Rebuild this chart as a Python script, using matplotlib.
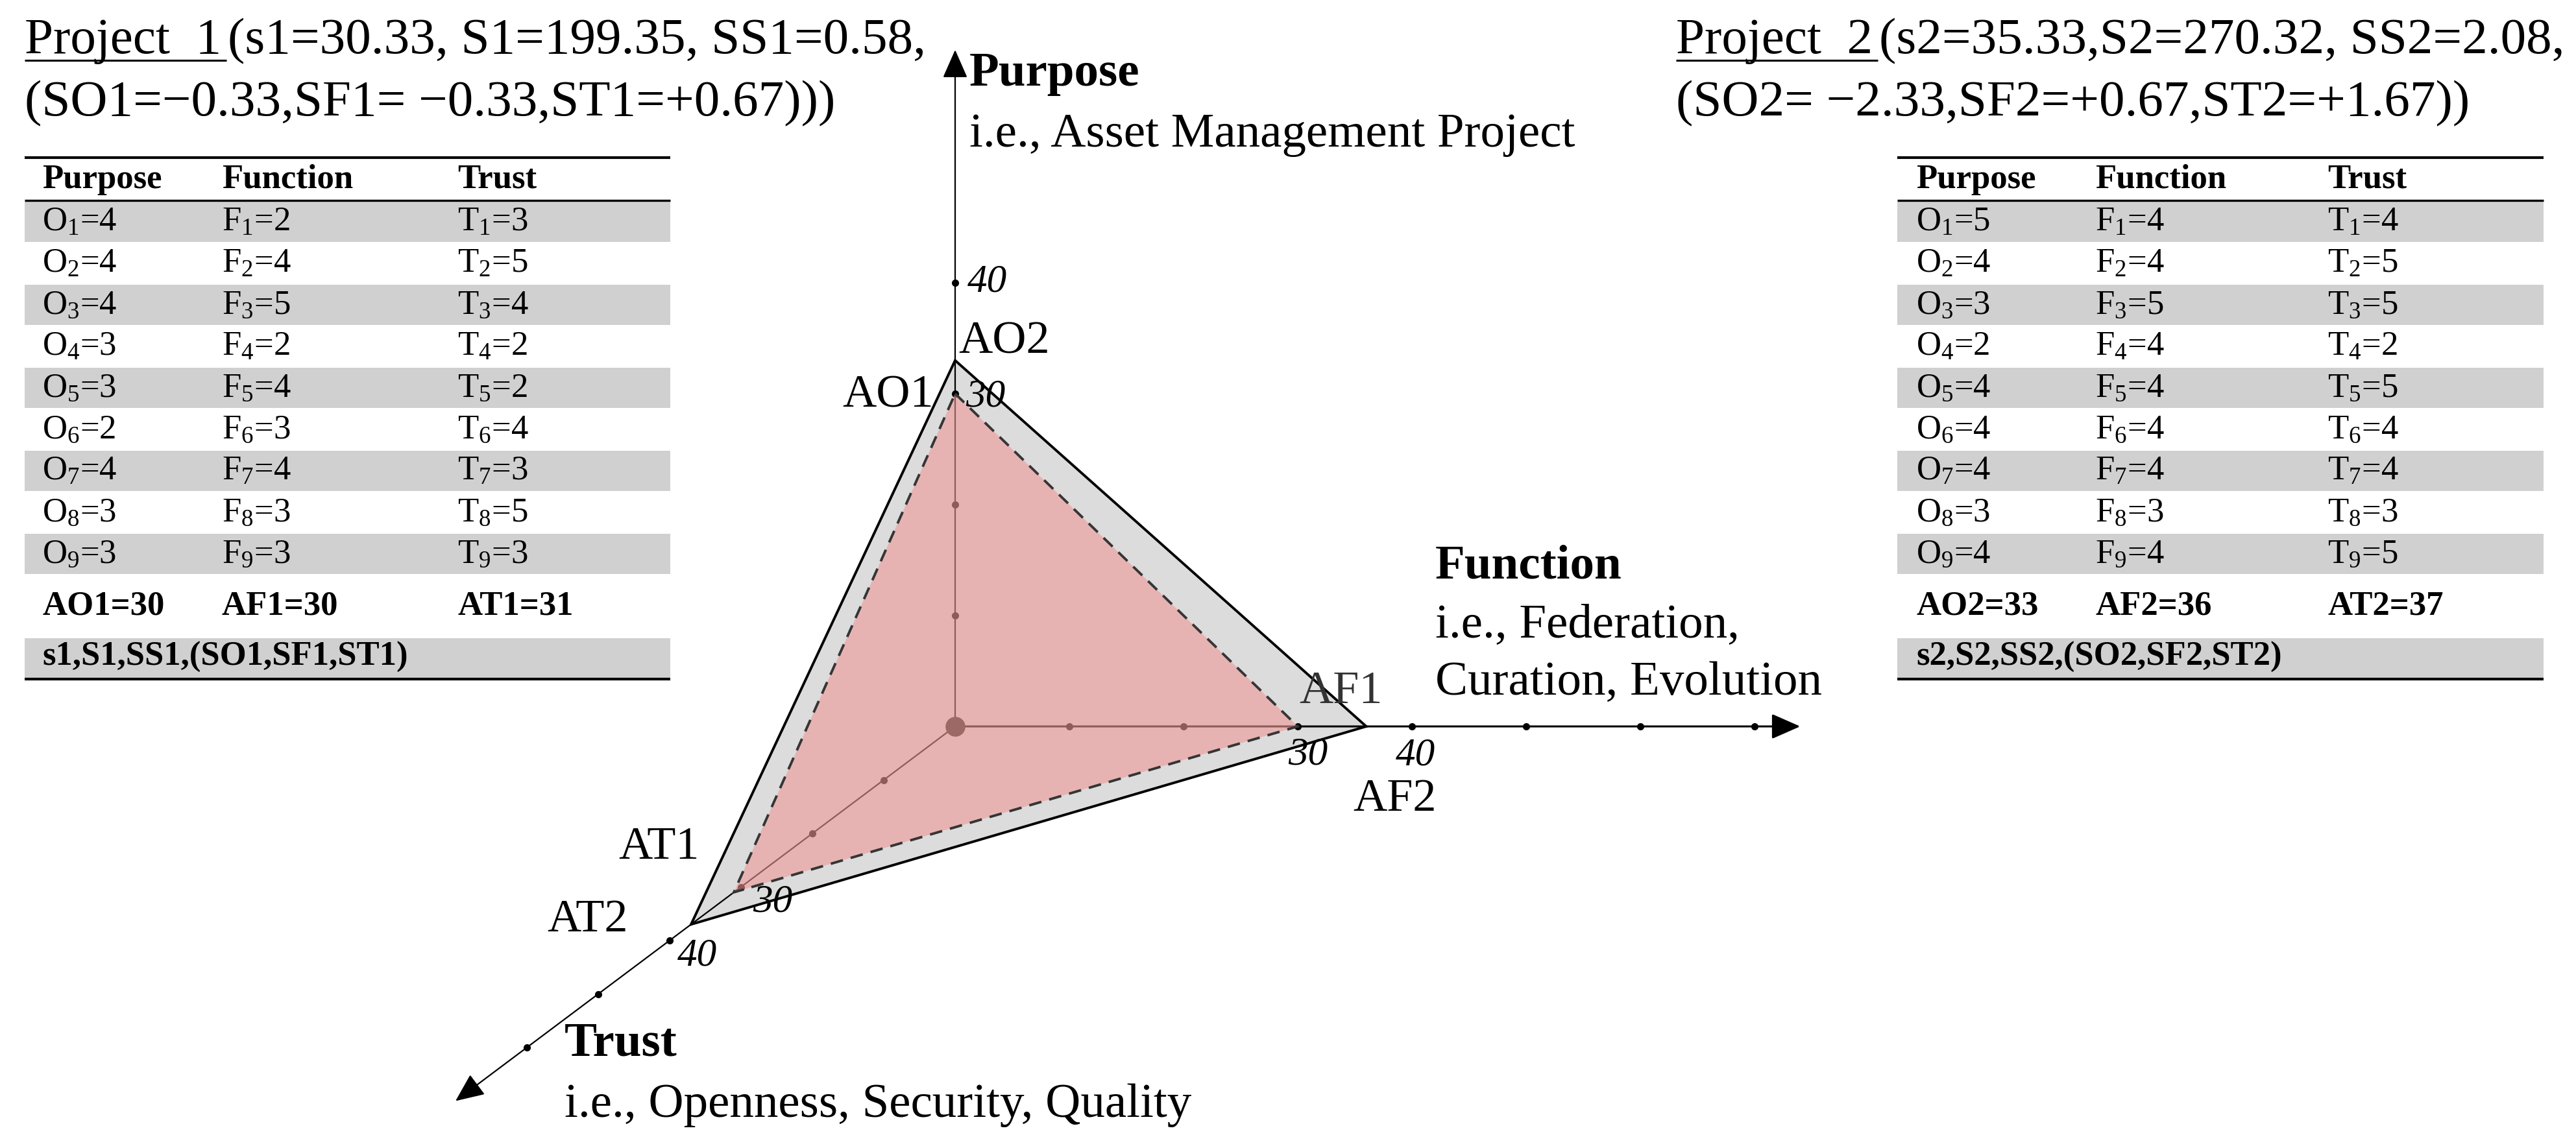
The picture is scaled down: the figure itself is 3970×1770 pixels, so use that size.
import matplotlib
matplotlib.use('Agg')
from matplotlib import pyplot as plt
from matplotlib.patches import Polygon, Rectangle

# item scores
purpose1 = [4, 4, 4, 3, 3, 2, 4, 3, 3]
function1 = [2, 4, 5, 2, 4, 3, 4, 3, 3]
trust1 = [3, 5, 4, 2, 2, 4, 3, 5, 3]
purpose2 = [5, 4, 3, 2, 4, 4, 4, 3, 4]
function2 = [4, 4, 5, 4, 4, 4, 4, 3, 4]
trust2 = [4, 5, 5, 2, 5, 4, 4, 3, 5]

title1 = ['(s1=30.33, S1=199.35, SS1=0.58,', '(SO1=\u22120.33,SF1= \u22120.33,ST1=+0.67)))']
title2 = ['(s2=35.33,S2=270.32, SS2=2.08,', '(SO2= \u22122.33,SF2=+0.67,ST2=+1.67))']

purpose_ticks = [10, 20, 30, 40]
function_ticks = [10, 20, 30, 40, 50, 60, 70]
trust_ticks = [10, 20, 30, 40, 50, 60]

plt.rcParams['font.family'] = ['Liberation Serif', 'DejaVu Serif']
plt.rcParams['mathtext.fontset'] = 'custom'
plt.rcParams['mathtext.rm'] = 'Liberation Serif'
plt.rcParams['mathtext.it'] = 'Liberation Serif:italic'
plt.rcParams['mathtext.bf'] = 'Liberation Serif:bold'

fig = plt.figure(figsize=(39.7, 17.7), dpi=100)
ax = fig.add_axes([0, 0, 1, 1])
ax.set_xlim(0, 3970)
ax.set_ylim(1770, 0)
ax.axis('off')

# oblique 3-axis frame (pixels per unit)
origin = (1472, 1120)
dirs = {'O': (0.0, -17.1), 'F': (17.6, 0.0), 'T': (-11.0, 8.25)}


def pt(axis, v):
    return (origin[0] + v * dirs[axis][0], origin[1] + v * dirs[axis][1])


AO1, AF1, AT1 = sum(purpose1), sum(function1), sum(trust1)
AO2, AF2, AT2 = sum(purpose2), sum(function2), sum(trust2)

poly2 = [pt('O', AO2), pt('F', AF2), pt('T', AT2)]
poly1 = [pt('O', AO1), pt('F', AF1), pt('T', AT1)]

ax.add_patch(Polygon(poly2, closed=True, facecolor='#dcdcdc', edgecolor='none', zorder=1))

# axes with arrowheads
for axis, end, col, lw in [('O', 61, '#222222', 1.6), ('F', 74, '#555555', 2.2), ('T', 70, '#222222', 1.6)]:
    ax.annotate('', xy=pt(axis, end), xytext=origin,
                arrowprops=dict(arrowstyle='-|>,head_length=0.5,head_width=0.22', mutation_scale=55,
                                color='black', lw=lw, shrinkA=0, shrinkB=0), zorder=2)
for axis, ticks in [('O', purpose_ticks), ('F', function_ticks), ('T', trust_ticks)]:
    xs = [pt(axis, v)[0] for v in ticks]
    ys = [pt(axis, v)[1] for v in ticks]
    ax.plot(xs, ys, 'o', color='black', ms=7, zorder=2)
ax.plot([origin[0]], [origin[1]], 'o', color='#222222', ms=21, zorder=2)

ax.add_patch(Polygon(poly1, closed=True, facecolor='#f09996', alpha=0.6, edgecolor='none', zorder=3))
ax.add_patch(Polygon(poly2, closed=True, facecolor='none', edgecolor='black', lw=2.8, zorder=4))
ax.add_patch(Polygon(poly1, closed=True, facecolor='none', edgecolor='#353535', lw=2.8,
                     linestyle=(0, (5, 3.2)), zorder=4))

# vertex and tick labels
lab = dict(fontsize=52, va='center', zorder=5)
tl = dict(fontsize=44, style='italic', va='center', zorder=5)
ax.text(1477, 527, 'AO2', ha='left', **lab)
ax.text(1439, 610, 'AO1', ha='right', **lab)
ax.text(1491, 435, '40', ha='left', **tl)
ax.text(1488, 612, '30', ha='left', **tl)
ax.text(2002, 1066, 'AF1', ha='left', color='#333333', **lab)
ax.text(2085, 1232, 'AF2', ha='left', **lab)
ax.text(1985, 1164, '30', ha='left', **tl)
ax.text(2151, 1165, '40', ha='left', **tl)
ax.text(953, 1307, 'AT1', ha='left', **lab)
ax.text(843, 1418, 'AT2', ha='left', **lab)
ax.text(1160, 1391, '30', ha='left', **tl)
ax.text(1044, 1474, '40', ha='left', **tl)

# axis names
ax.text(1494, 114, 'Purpose', fontsize=54, fontweight='bold', va='center')
ax.text(1494, 208, 'i.e., Asset Management Project', fontsize=54, va='center')
ax.text(2212, 874, 'Function', fontsize=54, fontweight='bold', va='center')
ax.text(2212, 965, 'i.e., Federation,', fontsize=54, va='center')
ax.text(2212, 1053, 'Curation, Evolution', fontsize=54, va='center')
ax.text(870, 1610, 'Trust', fontsize=54, fontweight='bold', va='center')
ax.text(870, 1704, 'i.e., Openness, Security, Quality', fontsize=54, va='center')


def draw_table(x0, x1, cols, p, f, t, k):
    ax.plot([x0, x1], [243, 243], color='black', lw=3, solid_capstyle='butt')
    for cx, name in zip(cols, ['Purpose', 'Function', 'Trust']):
        ax.text(cx, 277, name, fontsize=38, fontweight='bold', va='center')
    ax.plot([x0, x1], [309, 309], color='black', lw=2.4, solid_capstyle='butt')
    rh = 64
    for i in range(len(p)):
        y = 311 + i * rh
        if i % 2 == 0:
            ax.add_patch(Rectangle((x0, y), x1 - x0, rh - 2, facecolor='#d0d0d0', edgecolor='none'))
        sub = '$_\\mathrm{%d}$' % (i + 1)
        ax.text(cols[0], y + rh / 2, 'O' + sub + '=%d' % p[i], fontsize=38, va='center')
        ax.text(cols[1], y + rh / 2, 'F' + sub + '=%d' % f[i], fontsize=38, va='center')
        ax.text(cols[2], y + rh / 2, 'T' + sub + '=%d' % t[i], fontsize=38, va='center')
    for cx, s in zip(cols, ['AO%d=%d' % (k, sum(p)), 'AF%d=%d' % (k, sum(f)), 'AT%d=%d' % (k, sum(t))]):
        ax.text(cx, 934, s, fontsize=38, fontweight='bold', va='center')
    ax.add_patch(Rectangle((x0, 984), x1 - x0, 61, facecolor='#d0d0d0', edgecolor='none'))
    ax.text(cols[0], 1013, 's%d,S%d,SS%d,(SO%d,SF%d,ST%d)' % ((k,) * 6), fontsize=38,
            fontweight='bold', va='center')
    ax.plot([x0, x1], [1047, 1047], color='black', lw=3, solid_capstyle='butt')


draw_table(38, 1033, [65, 342, 705], purpose1, function1, trust1, 1)
draw_table(2924, 3920, [2953, 3229, 3587], purpose2, function2, trust2, 2)


def title(x, name, lines):
    head = ax.text(x, 82, name, fontsize=57, va='baseline')
    fig.canvas.draw()
    bb = head.get_window_extent(fig.canvas.get_renderer())
    w = bb.width
    ax.text(x + w + 10, 82, lines[0], fontsize=57, va='baseline')
    ax.text(x, 178, lines[1], fontsize=57, va='baseline')
    ax.plot([x, x + w + 8], [93, 93], color='black', lw=2.2, solid_capstyle='butt')


title(38, 'Project  1', title1)
title(2583, 'Project  2', title2)

fig.savefig('out.png', dpi=100)
